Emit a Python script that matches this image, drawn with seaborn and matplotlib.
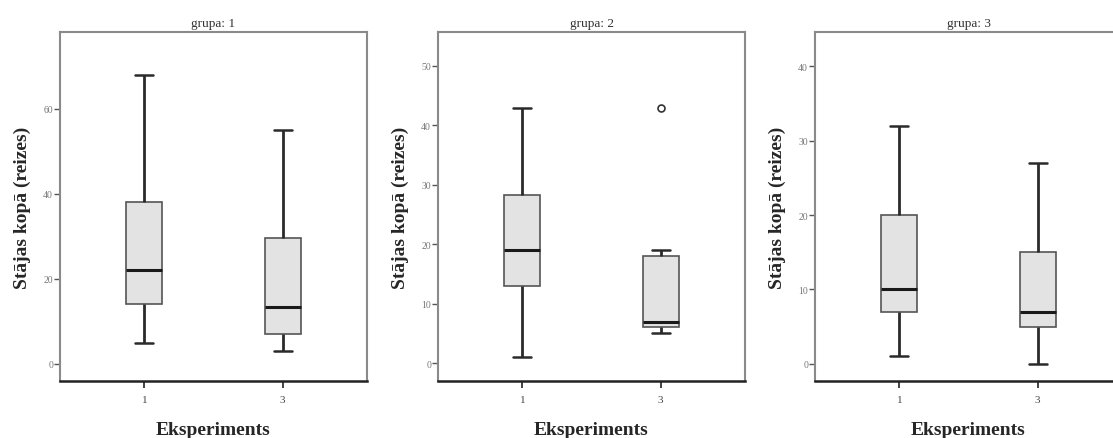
import matplotlib
matplotlib.use("Agg")
import matplotlib.pyplot as plt
import seaborn as sns
import pandas as pd

# ============================================
# Dati nolasiti no attela (katras kastes punkti)
# ============================================
eksperimenti = ["1", "3"]
grupas = ["1", "2", "3"]

# grupa 1
g1_e1 = [5, 14, 22, 38, 68]
g1_e3 = [3, 7, 13.5, 29.5, 55]
# grupa 2 (eksperimentam 3 ir viens izlecejs = 43)
g2_e1 = [1, 13, 19, 28.3, 43]
g2_e3 = [5, 6, 6, 7, 7, 18, 18, 19, 43]
# grupa 3
g3_e1 = [1, 7, 10, 20, 32]
g3_e3 = [0, 5, 7, 15, 27]

ylims = {"1": (-4, 78), "2": (-3, 55.7), "3": (-2.3, 44.6)}
yticks = {"1": [0, 20, 40, 60], "2": [0, 10, 20, 30, 40, 50], "3": [0, 10, 20, 30, 40]}

rows = []
for grupa, e1, e3 in [("1", g1_e1, g1_e3), ("2", g2_e1, g2_e3), ("3", g3_e1, g3_e3)]:
    for v in e1:
        rows.append({"grupa": grupa, "Eksperiments": "1", "reizes": v})
    for v in e3:
        rows.append({"grupa": grupa, "Eksperiments": "3", "reizes": v})
df = pd.DataFrame(rows)

sns.set_style("white")
plt.rcParams["font.family"] = ["Liberation Serif", "DejaVu Serif"]

fig = plt.figure(figsize=(11.13, 4.39), dpi=100)
lefts = [60, 438, 815]
W, H = 1113, 439

for grupa, left in zip(grupas, lefts):
    ax = fig.add_axes([left / W, (H - 382) / H, 307 / W, 349 / H])
    sub = df[df["grupa"] == grupa]
    sns.boxplot(
        data=sub, x="Eksperiments", y="reizes", order=eksperimenti, ax=ax,
        width=0.26, color="#e3e3e3", linecolor="#555555", linewidth=1.2,
        whiskerprops={"color": "#2a2a2a", "linewidth": 2.0},
        capprops={"color": "#2a2a2a", "linewidth": 1.8},
        medianprops={"color": "#1a1a1a", "linewidth": 2.2},
        flierprops={"marker": "o", "markersize": 5, "markerfacecolor": "white",
                    "markeredgecolor": "#333333", "markeredgewidth": 1.2},
    )
    ax.set_xlim(-0.61, 1.61)
    ax.set_ylim(*ylims[grupa])
    ax.set_yticks(yticks[grupa])
    ax.tick_params(axis="y", direction="out", length=4, width=1, color="#555555",
                   labelsize=7, labelcolor="#777777", pad=1, left=True)
    ax.tick_params(axis="x", direction="out", length=5, width=1.2, color="#222222",
                   labelsize=8, labelcolor="#444444", pad=5, bottom=True)
    for side in ["left", "top", "right"]:
        ax.spines[side].set_color("#8a8a8a")
        ax.spines[side].set_linewidth(1.5)
    ax.spines["bottom"].set_color("#222222")
    ax.spines["bottom"].set_linewidth(1.8)
    ax.set_title(f"grupa: {grupa}", fontsize=9.5, color="#333333", pad=4)
    ax.set_xlabel("Eksperiments", fontsize=14, fontweight="bold", labelpad=12)
    ax.set_ylabel("Stājas kopā (reizes)", fontsize=14, fontweight="bold", labelpad=9)

fig.savefig("out.png", dpi=100)
